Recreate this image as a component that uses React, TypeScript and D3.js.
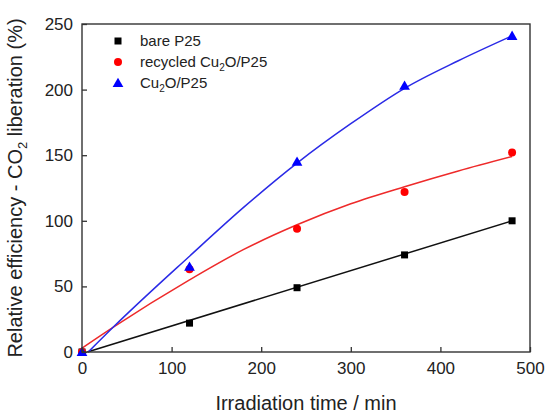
import React, { useRef, useEffect } from 'react';
import * as d3 from 'd3';

// measured points (min, %)
const times = [0, 120, 240, 360, 480];
const bareP25 = [0, 22, 49, 74, 100];
const recycled = [0, 63, 94, 122, 152];
const cu2o = [0, 65, 145, 203, 241];

// fitted curves
const bareFit: [number, number][] = [[6, 0], [480, 100]];
const recycledFit: [number, number][] = [
  [0, 3], [35, 19], [120, 55], [180, 78], [240, 97], [300, 113], [360, 126], [420, 138], [480, 149]
];
const cu2oFit: [number, number][] = [
  [7, 0], [35, 19], [120, 73], [180, 110], [240, 144], [300, 174], [360, 201], [420, 222], [480, 241]
];

const xTicks = [0, 100, 200, 300, 400, 500];
const yTicks = [0, 50, 100, 150, 200, 250];

const W = 550;
const H = 415;

const App: React.FC = () => {
  const svgRef = useRef<SVGSVGElement>(null);

  useEffect(() => {
    if (!svgRef.current) return;
    const svg = d3.select(svgRef.current);
    svg.selectAll('*').remove();

    const margin = { top: 24, right: 20, bottom: 63, left: 82 };
    const innerW = W - margin.left - margin.right;
    const innerH = H - margin.top - margin.bottom;
    const font = '"Liberation Sans", Arial, sans-serif';

    const x = d3.scaleLinear().domain([0, 500]).range([0, innerW]);
    const y = d3.scaleLinear().domain([0, 250]).range([innerH, 0]);

    const g = svg.append('g').attr('transform', `translate(${margin.left},${margin.top})`);

    // fitted lines
    const line = d3.line<[number, number]>()
      .x(d => x(d[0]))
      .y(d => y(d[1]))
      .curve(d3.curveMonotoneX);

    [
      { pts: bareFit, color: '#111111' },
      { pts: recycledFit, color: '#ee2a2a' },
      { pts: cu2oFit, color: '#2a2ae6' }
    ].forEach(s => {
      g.append('path')
        .attr('d', line(s.pts))
        .attr('fill', 'none')
        .attr('stroke', s.color)
        .attr('stroke-width', 1.5);
    });

    // markers
    g.selectAll('.sq').data(times.map((t, i) => [t, bareP25[i]]))
      .enter().append('rect')
      .attr('x', d => x(d[0]) - 3.5)
      .attr('y', d => y(d[1]) - 3.5)
      .attr('width', 7)
      .attr('height', 7)
      .attr('fill', '#000');

    g.selectAll('.ci').data(times.map((t, i) => [t, recycled[i]]))
      .enter().append('circle')
      .attr('cx', d => x(d[0]))
      .attr('cy', d => y(d[1]))
      .attr('r', 4)
      .attr('fill', '#ff0000');

    const tri = d3.symbol().type(d3.symbolTriangle).size(50);
    g.selectAll('.tr').data(times.map((t, i) => [t, cu2o[i]]))
      .enter().append('path')
      .attr('d', tri)
      .attr('transform', d => `translate(${x(d[0])},${y(d[1]) + 1})`)
      .attr('fill', '#0000ff');

    // frame
    g.append('rect')
      .attr('width', innerW)
      .attr('height', innerH)
      .attr('fill', 'none')
      .attr('stroke', '#333')
      .attr('stroke-width', 1.4);

    // axes with inward ticks
    const xAxis = g.append('g')
      .attr('transform', `translate(0,${innerH})`)
      .call(d3.axisBottom(x).tickValues(xTicks).tickSizeInner(-5).tickSizeOuter(0).tickPadding(10));
    const yAxis = g.append('g')
      .call(d3.axisLeft(y).tickValues(yTicks).tickSizeInner(-5).tickSizeOuter(0).tickPadding(9));

    [xAxis, yAxis].forEach(a => {
      a.select('.domain').remove();
      a.selectAll('line').attr('stroke', '#333').attr('stroke-width', 1.3);
      a.selectAll('text')
        .attr('fill', '#222')
        .style('font-family', font)
        .style('font-size', '17px');
    });

    // axis titles
    svg.append('text')
      .attr('x', margin.left + innerW / 2)
      .attr('y', 410)
      .attr('text-anchor', 'middle')
      .style('font-family', font)
      .style('font-size', '20px')
      .attr('fill', '#222')
      .text('Irradiation time / min');

    const yt = svg.append('text')
      .attr('transform', `translate(22,${margin.top + innerH / 2}) rotate(-90)`)
      .attr('text-anchor', 'middle')
      .style('font-family', font)
      .style('font-size', '20px')
      .attr('fill', '#222');
    yt.append('tspan').text('Relative efficiency - CO');
    yt.append('tspan').attr('dy', 5).style('font-size', '13px').text('2');
    yt.append('tspan').attr('dy', -5).text(' liberation (%)');

    // legend
    const legend = [
      { kind: 'sq', color: '#000', label: ['bare P25'] },
      { kind: 'ci', color: '#ff0000', label: ['recycled Cu', '2', 'O/P25'] },
      { kind: 'tr', color: '#0000ff', label: ['Cu', '2', 'O/P25'] }
    ];
    legend.forEach((item, i) => {
      const cy = 41 + i * 21;
      const lx = 118;
      if (item.kind === 'sq') {
        svg.append('rect').attr('x', lx - 3.5).attr('y', cy - 3.5).attr('width', 7).attr('height', 7).attr('fill', item.color);
      } else if (item.kind === 'ci') {
        svg.append('circle').attr('cx', lx).attr('cy', cy).attr('r', 4).attr('fill', item.color);
      } else {
        svg.append('path').attr('d', tri).attr('transform', `translate(${lx},${cy + 1})`).attr('fill', item.color);
      }
      const t = svg.append('text')
        .attr('x', 140)
        .attr('y', cy + 5)
        .style('font-family', font)
        .style('font-size', '15px')
        .attr('fill', '#222');
      if (item.label.length === 1) {
        t.text(item.label[0]);
      } else {
        t.append('tspan').text(item.label[0]);
        t.append('tspan').attr('dy', 4).style('font-size', '10px').text(item.label[1]);
        t.append('tspan').attr('dy', -4).text(item.label[2]);
      }
    });
  }, []);

  return (
    <svg
      ref={svgRef}
      width={W}
      height={H}
      style={{ position: 'absolute', left: 0, top: 0, background: '#fff' }}
    />
  );
};

export default App;
